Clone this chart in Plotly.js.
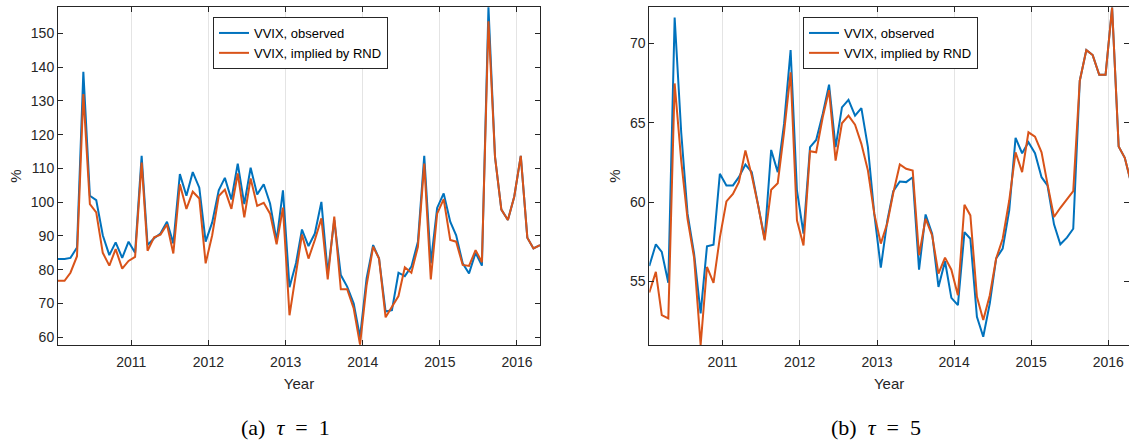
<!DOCTYPE html>
<html><head><meta charset="utf-8">
<script src="https://cdn.plot.ly/plotly-3.0.1.min.js"></script>
<style>html,body{margin:0;padding:0;background:#fff;} #chart{width:1129px;height:442px;}</style>
</head><body><div id="chart"></div>
<script>
// Monthly observation dates (Jan 2010 - Apr 2016)
const dates = [
 '2010-01-19','2010-02-19','2010-03-19','2010-04-19','2010-05-19','2010-06-19','2010-07-19','2010-08-19','2010-09-19','2010-10-19','2010-11-19','2010-12-19',
 '2011-01-19','2011-02-19','2011-03-19','2011-04-19','2011-05-19','2011-06-19','2011-07-19','2011-08-19','2011-09-19','2011-10-19','2011-11-19','2011-12-19',
 '2012-01-19','2012-02-19','2012-03-19','2012-04-19','2012-05-19','2012-06-19','2012-07-19','2012-08-19','2012-09-19','2012-10-19','2012-11-19','2012-12-19',
 '2013-01-19','2013-02-19','2013-03-19','2013-04-19','2013-05-19','2013-06-19','2013-07-19','2013-08-19','2013-09-19','2013-10-19','2013-11-19','2013-12-19',
 '2014-01-19','2014-02-19','2014-03-19','2014-04-19','2014-05-19','2014-06-19','2014-07-19','2014-08-19','2014-09-19','2014-10-19','2014-11-19','2014-12-19',
 '2015-01-19','2015-02-19','2015-03-19','2015-04-19','2015-05-19','2015-06-19','2015-07-19','2015-08-19','2015-09-19','2015-10-19','2015-11-19','2015-12-19',
 '2016-01-19','2016-02-19','2016-03-19','2016-04-19'
];
const yearTicks = ['2011-01-01','2012-01-01','2013-01-01','2014-01-01','2015-01-01','2016-01-01'];
const yearLabels = ['2011','2012','2013','2014','2015','2016'];

// Panel (a): tau = 1
const obsTau1 = [
 83.2, 83.2, 83.5, 86.6, 138.6, 101.9, 100.6, 90.2, 84.3, 88.1, 83.5, 88.3,
 85.0, 113.7, 87.3, 89.3, 90.7, 94.2, 87.8, 108.3, 101.9, 108.9, 104.3, 88.3,
 94.0, 103.5, 107.2, 100.8, 111.4, 99.4, 110.2, 102.3, 105.3, 99.6, 88.6, 103.5,
 74.8, 82.0, 91.9, 87.0, 90.7, 100.1, 78.9, 94.7, 78.4, 75.0, 70.0, 60.0,
 77.4, 87.3, 83.3, 67.6, 68.0, 79.1, 78.1, 80.9, 88.3, 113.7, 81.9, 98.3,
 102.6, 94.2, 90.2, 81.9, 78.9, 85.0, 81.2, 157.7, 113.4, 97.8, 94.7, 101.6,
 113.7, 89.5, 86.3, 87.3
];
const rndTau1 = [
 76.7, 76.7, 79.1, 84.0, 132.0, 99.4, 97.0, 85.0, 81.2, 86.1, 80.3, 82.6,
 83.8, 111.7, 85.6, 89.6, 90.4, 93.4, 84.8, 105.3, 98.0, 103.1, 101.1, 81.9,
 90.2, 101.8, 103.7, 98.0, 108.5, 95.5, 107.0, 98.9, 99.8, 96.6, 87.5, 98.4,
 66.5, 79.5, 90.4, 83.3, 88.8, 95.2, 77.1, 95.7, 74.2, 74.2, 68.5, 57.8,
 75.4, 86.8, 83.3, 65.9, 69.0, 72.2, 80.7, 79.1, 86.8, 111.4, 77.1, 96.6,
 100.9, 88.8, 88.3, 81.4, 81.1, 85.8, 82.2, 153.6, 113.4, 97.8, 94.7, 101.6,
 113.7, 89.5, 86.3, 87.3
];

// Panel (b): tau = 5
const obsTau5 = [
 55.97, 57.34, 56.86, 54.91, 71.64, 64.40, 59.27, 56.75, 52.98, 57.21, 57.32, 61.78,
 61.05, 61.05, 61.57, 62.37, 61.89, 59.69, 57.69, 63.29, 61.89, 64.93, 69.58, 60.73,
 58.01, 63.46, 63.92, 65.56, 67.40, 63.46, 65.97, 66.44, 65.45, 65.93, 63.46, 59.27,
 55.87, 58.85, 60.69, 61.30, 61.26, 61.57, 55.74, 59.22, 58.01, 54.65, 56.27, 53.96,
 53.50, 58.11, 57.69, 52.77, 51.51, 53.61, 56.44, 57.07, 59.48, 64.05, 63.08, 63.77,
 63.08, 61.57, 61.05, 58.60, 57.34, 57.76, 58.32, 67.65, 69.58, 69.27, 68.03, 68.03,
 72.27, 63.50, 62.79, 61.15
];
const rndTau5 = [
 54.30, 55.60, 52.87, 52.66, 67.48, 62.62, 58.95, 56.50, 51.00, 55.91, 54.91, 57.76,
 60.04, 60.52, 61.26, 63.25, 61.68, 59.73, 57.59, 60.78, 61.19, 64.40, 68.18, 58.85,
 57.27, 63.21, 63.14, 65.35, 67.06, 62.62, 64.97, 65.45, 64.88, 63.67, 61.99, 59.27,
 57.38, 58.68, 60.57, 62.37, 62.10, 61.99, 56.65, 58.95, 57.90, 55.49, 56.50, 55.74,
 54.13, 59.83, 59.16, 54.03, 52.56, 54.13, 56.44, 57.69, 60.10, 63.14, 61.89, 64.40,
 64.13, 63.14, 61.15, 59.06, 59.64, 60.15, 60.69, 67.65, 69.58, 69.27, 68.03, 68.03,
 72.27, 63.50, 62.79, 61.15
];

const seriesNames = ['VVIX, observed', 'VVIX, implied by RND'];
const captions = ['(a)&nbsp; <i>τ</i>&nbsp; =&nbsp; 1', '(b)&nbsp; <i>τ</i>&nbsp; =&nbsp; 5'];
const yTicksA = [60, 70, 80, 90, 100, 110, 120, 130, 140, 150];
const yTicksB = [55, 60, 65, 70];

const BLUE = '#0072BD', ORANGE = '#D95319', AXC = '#262626';
const SANS = 'Liberation Sans, Arial, Helvetica, sans-serif';
const SERIF = 'Liberation Serif, Times New Roman, serif';
const W = 1129, H = 442;

function line(x, y, color, name, xa, ya, leg) {
  return {x: x, y: y, type: 'scatter', mode: 'lines', name: name,
    line: {color: color, width: 2}, xaxis: xa, yaxis: ya, legend: leg};
}
const traces = [
  line(dates, obsTau1, BLUE, seriesNames[0], 'x', 'y', 'legend'),
  line(dates, rndTau1, ORANGE, seriesNames[1], 'x', 'y', 'legend'),
  line(dates, obsTau5, BLUE, seriesNames[0], 'x2', 'y2', 'legend2'),
  line(dates, rndTau5, ORANGE, seriesNames[1], 'x2', 'y2', 'legend2')
];

const axBase = {
  showline: true, linecolor: AXC, linewidth: 1, mirror: 'ticks',
  ticks: 'inside', ticklen: 5, tickwidth: 1, tickcolor: AXC,
  tickfont: {family: SANS, size: 14, color: AXC},
  zeroline: false, fixedrange: true
};
function xAxis(domain, range, anchor) {
  return Object.assign({}, axBase, {
    type: 'date', domain: domain, range: range, anchor: anchor,
    tickmode: 'array', tickvals: yearTicks, ticktext: yearLabels,
    showgrid: true, gridcolor: '#e4e4e4', gridwidth: 1,
    ticklabelstandoff: 4,
    title: {text: 'Year', font: {family: SANS, size: 15, color: AXC}, standoff: 9}
  });
}
function yAxis(domain, range, anchor, tickvals) {
  return Object.assign({}, axBase, {
    domain: domain, range: range, anchor: anchor,
    tickmode: 'array', tickvals: tickvals, ticktext: tickvals.map(String),
    showgrid: false,
    title: {text: '%', font: {family: SANS, size: 15, color: AXC}, standoff: 5}
  });
}
const yDom = [97 / H, 435 / H];
const legendBase = {
  xanchor: 'left', yanchor: 'top', bgcolor: '#ffffff',
  bordercolor: AXC, borderwidth: 1,
  font: {family: SANS, size: 13, color: '#000'}, tracegroupgap: 0
};
function caption(text, xc) {
  return {text: text, xref: 'paper', yref: 'paper', x: xc / W, y: 1 - 427 / H,
    xanchor: 'center', yanchor: 'middle', showarrow: false,
    font: {family: SERIF, size: 22, color: '#000'}};
}
const layout = {
  width: W, height: H,
  margin: {l: 0, r: 0, t: 0, b: 0},
  paper_bgcolor: '#fff', plot_bgcolor: '#fff',
  showlegend: true,
  xaxis: xAxis([58 / W, 540 / W], ['2010-01-19', '2016-04-19'], 'y'),
  yaxis: yAxis(yDom, [57.7, 157.8], 'x', yTicksA),
  xaxis2: xAxis([649.3 / W, 1], ['2010-01-19', '2016-04-08'], 'y2'),
  yaxis2: yAxis(yDom, [50.99, 72.3], 'x2', yTicksB),
  legend: Object.assign({x: 213 / W, y: 1 - 17 / H}, legendBase),
  legend2: Object.assign({x: 803 / W, y: 1 - 17 / H}, legendBase),
  annotations: [caption(captions[0], 285), caption(captions[1], 876)]
};
Plotly.newPlot('chart', traces, layout, {displayModeBar: false, staticPlot: true});
</script></body></html>
